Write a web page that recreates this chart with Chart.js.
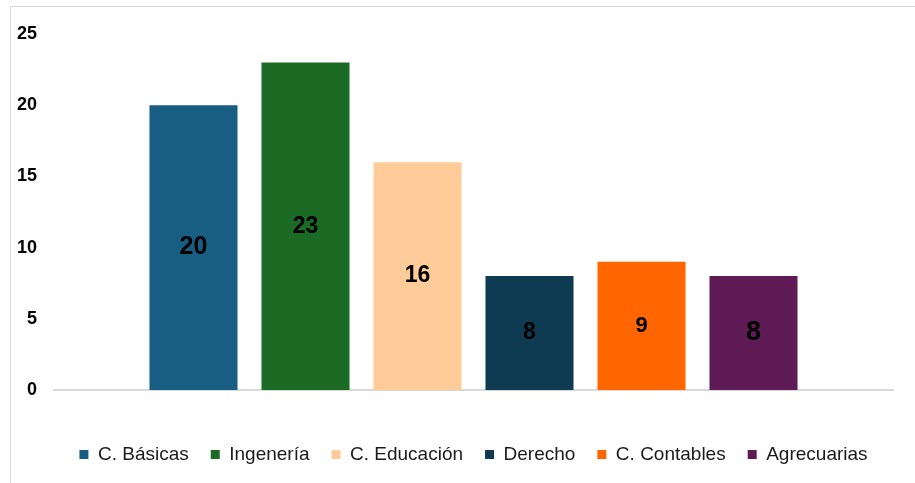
<!DOCTYPE html>
<html>
<head>
<meta charset="utf-8">
<script src="https://cdn.jsdelivr.net/npm/chart.js@4.4.1/dist/chart.umd.min.js"></script>
<style>
  html, body { margin: 0; padding: 0; background: #ffffff; overflow: hidden; }
  #frame { position: absolute; left: 10px; top: 6px; width: 920px; height: 490px; border: 1px solid #d9d9d9; box-sizing: border-box; }
  #wrap { position: absolute; left: 0; top: 0; width: 915px; height: 483px; }
</style>
</head>
<body>
<div id="frame"></div>
<div id="wrap"><canvas id="c"></canvas></div>
<script>
const categories = [''];
const seriesNames = ['C. Básicas', 'Ingenería', 'C. Educación', 'Derecho', 'C. Contables', 'Agrecuarias'];
const seriesValues = [20, 23, 16, 8, 9, 8];
const seriesColors = ['#175E82', '#1B6B24', '#FFCC99', '#0E3A52', '#FF6600', '#5F1B56'];
const labelSizes = [25, 23, 23, 23, 22, 27];
const yMax = 25;
const yStep = 5;

const valueLabels = {
  id: 'valueLabels',
  afterDatasetsDraw(chart) {
    const ctx = chart.ctx;
    chart.data.datasets.forEach((ds, i) => {
      const meta = chart.getDatasetMeta(i);
      meta.data.forEach((bar, j) => {
        const v = ds.data[j];
        const mid = (bar.y + bar.base) / 2;
        ctx.save();
        ctx.fillStyle = '#000000';
        ctx.font = 'bold ' + labelSizes[i] + 'px "Liberation Sans", Arial, sans-serif';
        ctx.textAlign = 'center';
        ctx.textBaseline = 'middle';
        ctx.fillText(String(v), bar.x, mid);
        ctx.restore();
      });
    });
  }
};

const legendShift = {
  id: 'legendShift',
  afterLayout(chart) {
    const lg = chart.legend;
    if (!lg) return;
    const target = (chart.chartArea.left + chart.chartArea.right) / 2;
    const cur = (lg.left + lg.right) / 2;
    const d = target - cur;
    lg.left += d;
    lg.right += d;
  }
};

new Chart(document.getElementById('c'), {
  type: 'bar',
  data: {
    labels: categories,
    datasets: seriesNames.map((name, i) => ({
      label: name,
      data: [seriesValues[i]],
      backgroundColor: seriesColors[i],
      borderWidth: 0,
      categoryPercentage: 0.801,
      barPercentage: 0.786
    }))
  },
  options: {
    responsive: true,
    maintainAspectRatio: false,
    animation: false,
    layout: { padding: { left: 12, right: 22, top: 34, bottom: 9 } },
    plugins: {
      tooltip: { enabled: false },
      legend: {
        position: 'bottom',
        labels: {
          boxWidth: 9,
          boxHeight: 9,
          padding: 22,
          color: '#1a1a1a',
          font: { family: '"Liberation Sans", Arial, sans-serif', size: 19 }
        }
      }
    },
    scales: {
      x: {
        grid: { display: false },
        border: { display: true, color: '#d9d9d9', width: 2 },
        ticks: { display: false },
        afterFit(scale) { scale.height = 33; }
      },
      y: {
        min: 0,
        max: yMax,
        grid: { display: false, drawTicks: false },
        border: { display: false },
        ticks: {
          stepSize: yStep,
          padding: 17,
          color: '#000000',
          font: { family: '"Liberation Sans", Arial, sans-serif', size: 18, weight: 'bold' }
        },
        afterFit(scale) { scale.width = 42; }
      }
    }
  },
  plugins: [valueLabels, legendShift]
});
</script>
</body>
</html>
